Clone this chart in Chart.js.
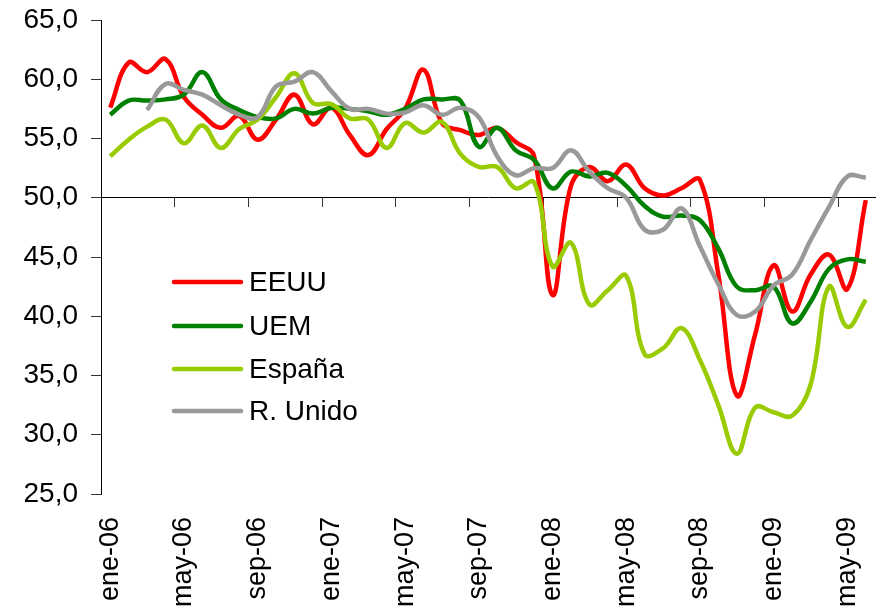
<!DOCTYPE html>
<html>
<head>
<meta charset="utf-8">
<script src="https://cdn.jsdelivr.net/npm/chart.js@4.4.1/dist/chart.umd.min.js"></script>
<style>
  html, body { margin: 0; padding: 0; background: #fff; }
  #wrap { width: 876px; height: 615px; position: relative; }
</style>
</head>
<body>
<div id="wrap"><canvas id="pmi"></canvas></div>
<script>
// Monthly PMI-style indices, ene-06 .. jun-09
const months = [
  'ene-06','feb-06','mar-06','abr-06','may-06','jun-06','jul-06','ago-06','sep-06','oct-06','nov-06','dic-06',
  'ene-07','feb-07','mar-07','abr-07','may-07','jun-07','jul-07','ago-07','sep-07','oct-07','nov-07','dic-07',
  'ene-08','feb-08','mar-08','abr-08','may-08','jun-08','jul-08','ago-08','sep-08','oct-08','nov-08','dic-08',
  'ene-09','feb-09','mar-09','abr-09','may-09','jun-09'
];

const eeuu = [
  57.6, 61.4, 60.6, 61.7, 58.5, 57.0, 55.9, 56.9, 54.9, 56.6, 58.7, 56.2,
  57.6, 55.3, 53.6, 55.8, 57.5, 60.8, 56.3, 55.7, 55.3, 55.9, 54.7, 53.5,
  41.8, 51.0, 52.6, 51.4, 52.8, 50.8, 50.2, 50.8, 51.5, 43.5, 33.3, 38.5,
  44.3, 40.4, 43.5, 45.2, 42.3, 49.8
];
const uem = [
  57.0, 58.2, 58.2, 58.3, 58.7, 60.6, 58.3, 57.4, 56.8, 56.7, 57.5, 57.1,
  57.6, 57.5, 57.3, 57.0, 57.5, 58.3, 58.3, 58.2, 54.3, 55.9, 54.0, 53.2,
  50.8, 52.2, 51.8, 52.1, 51.0, 49.3, 48.4, 48.5, 48.1, 45.7, 42.5, 42.2,
  42.5, 39.4, 41.2, 44.0, 44.8, 44.6
];
const espana = [
  53.5, 54.9, 56.0, 56.6, 54.6, 56.1, 54.2, 55.8, 56.6, 58.5, 60.5, 58.0,
  57.9, 56.7, 56.6, 54.2, 56.3, 55.5, 56.4, 53.7, 52.6, 52.6, 50.8, 51.3,
  44.2, 46.2, 41.0, 42.2, 43.4, 36.8, 37.3, 39.0, 36.3, 32.5, 28.4, 32.3,
  31.9, 31.6, 34.2, 42.5, 39.1, 41.4
];
const rUnido = [
  null, null, 57.4, 59.6, 59.1, 58.7, 57.8, 57.0, 56.8, 59.4, 59.8, 60.6,
  59.0, 57.5, 57.5, 57.1, 57.2, 57.8, 57.0, 57.6, 56.8, 53.5, 51.9, 52.5,
  52.5, 54.0, 52.2, 50.8, 50.0, 47.3, 47.3, 49.1, 45.9, 42.7, 40.1, 40.4,
  42.6, 43.5, 46.4, 49.2, 51.8, 51.7
];

const seriesNames  = ['EEUU', 'UEM', 'España', 'R. Unido'];
const seriesColors = ['#ff0000', '#008000', '#99cc00', '#999999'];
const seriesData   = [eeuu, uem, espana, rUnido];

const yTicks = [25, 30, 35, 40, 45, 50, 55, 60, 65];

const FONT = 'Liberation Sans, Arial, sans-serif';

// legend drawn inside the plot, Excel style
const insideLegend = {
  id: 'insideLegend',
  afterDraw(chart) {
    const c = chart.ctx;
    const rows = [282, 326, 369, 411];
    c.save();
    c.font = '28px ' + FONT;
    c.textBaseline = 'middle';
    c.textAlign = 'left';
    chart.data.datasets.forEach((ds, i) => {
      const y = rows[i];
      c.strokeStyle = ds.borderColor;
      c.lineWidth = 4.5;
      c.lineCap = 'round';
      c.beginPath();
      c.moveTo(174, y);
      c.lineTo(241, y);
      c.stroke();
      c.fillStyle = '#000';
      c.fillText(ds.label, 249, y + 1);
    });
    c.restore();
  }
};

new Chart(document.getElementById('pmi'), {
  type: 'line',
  data: {
    labels: months,
    datasets: seriesNames.map((name, i) => ({
      label: name,
      data: seriesData[i],
      borderColor: seriesColors[i],
      backgroundColor: seriesColors[i],
      borderWidth: 4.5,
      pointRadius: 0,
      tension: 0.4,
      fill: false,
      order: seriesNames.length - i,
    })),
  },
  options: {
    responsive: true,
    maintainAspectRatio: false,
    animation: false,
    layout: { padding: { top: 20, right: 1, left: 0, bottom: 0 } },
    plugins: {
      legend:  { display: false },
      tooltip: { enabled: false },
    },
    scales: {
      x: {
        type: 'category',
        offset: true,
        border: { display: false },
        grid:   { display: false, drawTicks: false },
        ticks: {
          color: '#000',
          font: { family: FONT, size: 27 },
          autoSkip: false,
          minRotation: 90,
          maxRotation: 90,
          padding: 23,
          callback(v, i) { return i % 4 === 0 ? this.getLabelForValue(v) : null; },
        },
        afterFit: s => { s.height = 121; s.paddingLeft = 0; s.paddingRight = 0; },
      },
      x2: {
        type: 'category',
        position: { y: 50 },
        offset: true,
        border: { display: true, color: '#000', width: 1 },
        grid: {
          offset: true,
          drawOnChartArea: false,
          drawTicks: true,
          tickLength: 9,
          color: ctx => (ctx.index > 0 && ctx.index % 4 === 0) ? '#333' : 'rgba(0,0,0,0)',
        },
        ticks: { display: false },
        afterFit: s => { s.paddingLeft = 0; s.paddingRight = 0; },
      },
      y: {
        min: 25,
        max: 65,
        border: { display: true, color: '#000', width: 1 },
        grid: { drawOnChartArea: false, drawTicks: true, tickLength: 10, color: '#333' },
        afterBuildTicks: s => { s.ticks = yTicks.map(v => ({ value: v })); },
        ticks: {
          color: '#000',
          padding: 13,
          font: { family: FONT, size: 28 },
          callback: v => v.toFixed(1).replace('.', ','),
        },
        afterFit: s => { s.width = 101; s.paddingTop = 0; s.paddingBottom = 0; },
      },
    },
  },
  plugins: [insideLegend],
});
</script>
</body>
</html>
